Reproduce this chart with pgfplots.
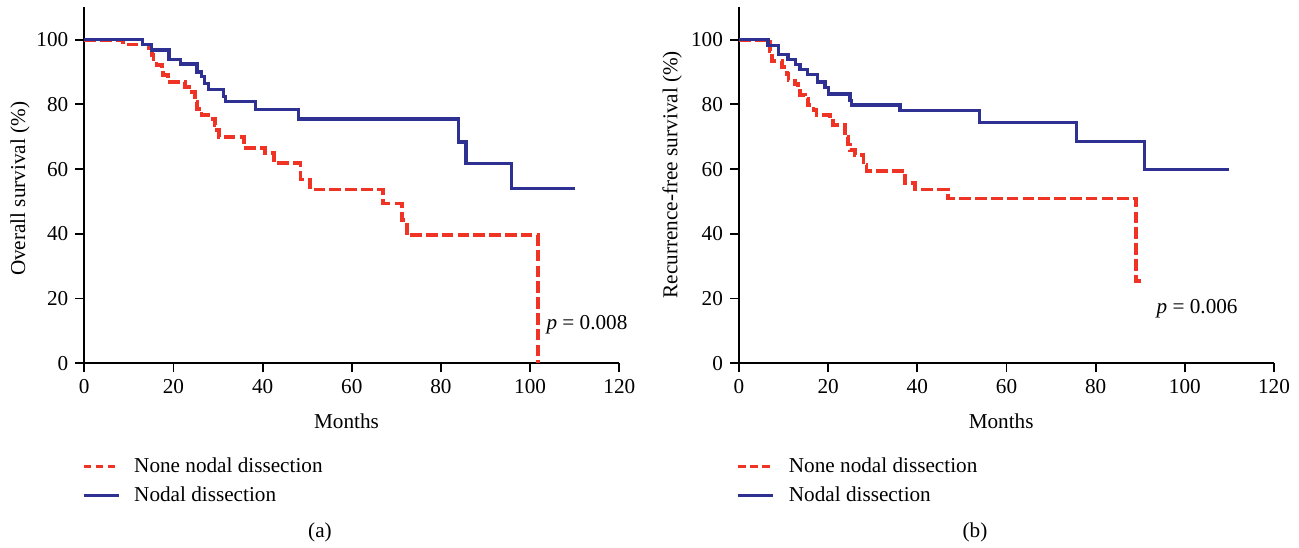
\documentclass[border=0pt]{standalone}
\usepackage{fontspec}
\setmainfont{Liberation Serif}
\usepackage{pgfplots}
\pgfplotsset{compat=1.18}

\definecolor{kmred}{RGB}{239,51,36}
\definecolor{kmblue}{RGB}{46,49,146}

\pgfplotsset{
  km/.style={
    width=267.5pt, height=178pt, scale only axis,
    xmin=0, xmax=120, ymin=0, ymax=110,
    xtick={0,20,...,120}, ytick={0,20,...,100},
    axis lines*=left,
    axis line style={line width=0.9pt},
    tick style={line width=0.9pt, black},
    tick align=outside, major tick length=4.5pt,
    /pgf/number format/assume math mode=true,
    tick label style={font=\fontsize{10.6pt}{13pt}\selectfont},
    label style={font=\fontsize{10.6pt}{13pt}\selectfont},
    xlabel=Months,
    xlabel style={at={(axis description cs:0.49,-0.164)}, anchor=center},
    legend cell align=left,
    legend style={draw=none, fill=none, at={(axis description cs:-0.005,-0.253)}, anchor=north west,
      font=\fontsize{10.6pt}{13pt}\selectfont, row sep=1.5pt, column sep=5pt, inner sep=0pt},
    clip=false,
  },
  nonestyle/.style={kmred, line width=1.9pt, dash pattern=on 5.8pt off 2.1pt, const plot,
    legend image code/.code={\draw[kmred, line width=1.4pt, dash pattern=on 3.6pt off 2.4pt] (0pt,0pt) -- (17.5pt,0pt);}},
  nodalstyle/.style={kmblue, line width=1.6pt, const plot,
    legend image code/.code={\draw[kmblue, line width=1.6pt] (0pt,0pt) -- (17.5pt,0pt);}},
}

\begin{document}
\begin{tikzpicture}
\useasboundingbox (-42.15pt,-91.85pt) rectangle (607.35pt,181.65pt);

% (a) overall survival
\begin{axis}[km, at={(0pt,0pt)}, anchor=south west,
  ylabel={Overall survival (\%)},
  ylabel style={at={(axis description cs:-0.12,0.49)}, anchor=center, rotate=0}]
\addplot[nonestyle] coordinates {
  (0,100) (8.7,98.5) (14.4,96.7) (15.1,95.2) (15.5,93.1) (16.2,92.1) (17.4,90.5)
  (17.7,89.0) (18.8,86.9) (22.6,85.4) (24.1,83.8) (24.8,80.7) (25.2,78.7) (26.3,76.6)
  (27.8,75.6) (29.3,73.6) (29.8,72.0) (30.3,69.9) (35.9,66.5) (40.5,65.0) (42.6,61.9)
  (48.5,56.8) (50.7,53.7) (67.0,49.4) (71.2,44.2) (72.3,39.6) (101.7,0)
};
\addplot[nodalstyle] coordinates {
  (0,100) (13,98.5) (15,96.8) (19,93.8) (21.5,92.5) (25.3,90.0) (26.2,88.5)
  (26.9,86.4) (27.8,84.5) (31.3,82.4) (31.7,80.8) (38.4,78.4) (48.1,75.5)
  (83.9,68.4) (85.6,61.7) (95.8,54.0) (110,54.0)
};
\legend{None nodal dissection, Nodal dissection}
\node[anchor=west, font=\fontsize{10.6pt}{13pt}\selectfont, inner sep=0pt] at (axis cs:103.6,11.8) {\textit{p} = 0.008};
\end{axis}

% (b) recurrence-free survival
\begin{axis}[km, at={(327.35pt,0pt)}, anchor=south west,
  ylabel={Recurrence-free survival (\%)},
  ylabel style={at={(axis description cs:-0.125,0.53)}, anchor=center, rotate=0}]
\addplot[nonestyle] coordinates {
  (0,100) (7.0,96.5) (7.4,93.3) (9.6,91.5) (10.7,89.5) (11.1,87.4) (12.6,86.4)
  (13.3,84.9) (13.7,82.8) (14.8,81.8) (15.5,79.7) (16.7,78.2) (17.4,76.8) (20.4,75.6)
  (21.1,73.6) (23.8,70.0) (24.4,67.6) (24.9,65.8) (26.0,64.3) (27.9,61.2) (28.6,59.4)
  (37.2,55.6) (39.5,53.7) (46.9,50.9) (89.0,25.4) (90.6,25.4)
};
\addplot[nodalstyle] coordinates {
  (0,100) (6.5,98.3) (8.8,95.5) (11.0,93.8) (12.7,92.3) (13.7,90.7) (15.4,89.2)
  (17.6,86.9) (19.3,85.1) (20.0,83.2) (24.9,81.3) (25.3,79.8) (36.1,78.0)
  (54.0,74.3) (75.7,68.6) (91.0,60.0) (110,60.0)
};
\legend{None nodal dissection, Nodal dissection}
\node[anchor=west, font=\fontsize{10.6pt}{13pt}\selectfont, inner sep=0pt] at (axis cs:93.6,17.0) {\textit{p} = 0.006};
\end{axis}

\node[font=\fontsize{10.6pt}{13pt}\selectfont] at (117.85pt,-84.35pt) {(a)};
\node[font=\fontsize{10.6pt}{13pt}\selectfont] at (445.35pt,-84.35pt) {(b)};
\end{tikzpicture}
\end{document}
